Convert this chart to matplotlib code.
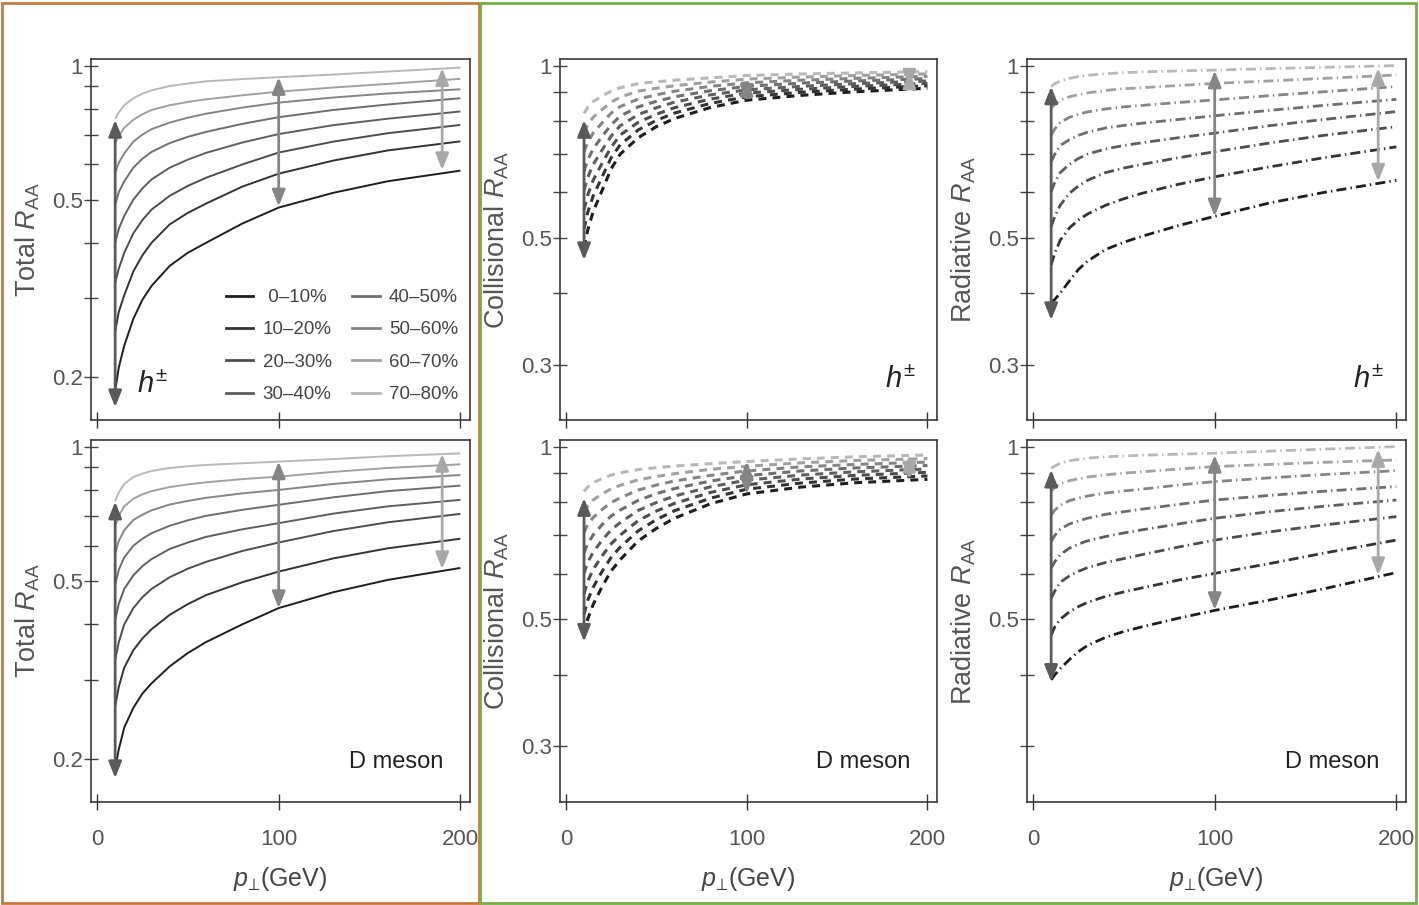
import matplotlib
matplotlib.use('Agg')
import matplotlib.pyplot as plt
from matplotlib.patches import Rectangle
from matplotlib.lines import Line2D

plt.rcParams['font.family'] = ['Liberation Sans', 'DejaVu Sans']
plt.rcParams['mathtext.fontset'] = 'custom'
plt.rcParams['mathtext.rm'] = 'Liberation Sans'
plt.rcParams['mathtext.it'] = 'Liberation Sans:italic'
plt.rcParams['mathtext.bf'] = 'Liberation Sans:bold'

pt = [10, 12, 15, 20, 25, 30, 40, 50, 60, 80, 100, 130, 160, 200]

centrality = [' 0–10%', '10–20%', '20–30%', '30–40%',
              '40–50%', '50–60%', '60–70%', '70–80%']
greys = ['#1e1e1e', '#333333', '#4d4d4d', '#5e5e5e',
         '#6e6e6e', '#858585', '#a0a0a0', '#b8b8b8']

# total R_AA, charged hadrons
total_h = [
    [0.186, 0.21, 0.235, 0.27, 0.298, 0.32, 0.355, 0.38, 0.40, 0.442, 0.48, 0.518, 0.55, 0.581],
    [0.253, 0.28, 0.305, 0.345, 0.375, 0.40, 0.44, 0.467, 0.49, 0.535, 0.572, 0.612, 0.645, 0.676],
    [0.325, 0.35, 0.38, 0.42, 0.45, 0.475, 0.51, 0.537, 0.56, 0.60, 0.638, 0.675, 0.705, 0.736],
    [0.40, 0.43, 0.46, 0.50, 0.53, 0.555, 0.59, 0.615, 0.637, 0.672, 0.702, 0.735, 0.76, 0.789],
    [0.487, 0.52, 0.55, 0.59, 0.618, 0.64, 0.67, 0.692, 0.71, 0.74, 0.766, 0.795, 0.818, 0.845],
    [0.575, 0.605, 0.635, 0.675, 0.70, 0.72, 0.745, 0.764, 0.78, 0.805, 0.826, 0.848, 0.866, 0.885],
    [0.67, 0.695, 0.725, 0.756, 0.778, 0.795, 0.815, 0.829, 0.84, 0.858, 0.874, 0.893, 0.91, 0.934],
    [0.76, 0.785, 0.815, 0.845, 0.865, 0.88, 0.90, 0.912, 0.922, 0.933, 0.942, 0.955, 0.97, 0.99],
]
# total R_AA, D meson
total_d = [
    [0.19, 0.21, 0.235, 0.26, 0.28, 0.295, 0.322, 0.345, 0.365, 0.40, 0.435, 0.472, 0.503, 0.535],
    [0.262, 0.29, 0.32, 0.35, 0.372, 0.39, 0.42, 0.444, 0.465, 0.497, 0.525, 0.562, 0.592, 0.622],
    [0.333, 0.365, 0.40, 0.435, 0.46, 0.48, 0.51, 0.533, 0.552, 0.584, 0.61, 0.647, 0.677, 0.707],
    [0.409, 0.445, 0.48, 0.515, 0.54, 0.56, 0.59, 0.61, 0.628, 0.653, 0.674, 0.708, 0.735, 0.76],
    [0.491, 0.53, 0.565, 0.60, 0.622, 0.64, 0.665, 0.684, 0.70, 0.722, 0.741, 0.77, 0.795, 0.818],
    [0.577, 0.615, 0.65, 0.685, 0.704, 0.72, 0.742, 0.756, 0.768, 0.786, 0.80, 0.825, 0.845, 0.864],
    [0.662, 0.70, 0.735, 0.765, 0.782, 0.795, 0.812, 0.823, 0.832, 0.846, 0.857, 0.878, 0.896, 0.913],
    [0.755, 0.79, 0.825, 0.855, 0.87, 0.882, 0.896, 0.904, 0.91, 0.918, 0.926, 0.938, 0.952, 0.966],
]
# collisional R_AA, charged hadrons
coll_h = [
    [0.480, 0.515, 0.555, 0.605, 0.66, 0.700, 0.748, 0.782, 0.808, 0.845, 0.870, 0.887, 0.900, 0.913],
    [0.518, 0.553, 0.591, 0.639, 0.69, 0.727, 0.772, 0.802, 0.826, 0.859, 0.882, 0.898, 0.910, 0.922],
    [0.560, 0.593, 0.630, 0.675, 0.72, 0.756, 0.796, 0.822, 0.844, 0.874, 0.895, 0.909, 0.920, 0.931],
    [0.605, 0.637, 0.671, 0.712, 0.753, 0.785, 0.821, 0.844, 0.863, 0.889, 0.907, 0.920, 0.930, 0.940],
    [0.654, 0.683, 0.715, 0.752, 0.788, 0.816, 0.847, 0.866, 0.882, 0.904, 0.920, 0.932, 0.940, 0.949],
    [0.707, 0.734, 0.762, 0.794, 0.826, 0.848, 0.874, 0.889, 0.902, 0.920, 0.933, 0.943, 0.950, 0.958],
    [0.764, 0.787, 0.812, 0.838, 0.863, 0.881, 0.902, 0.913, 0.922, 0.936, 0.947, 0.955, 0.961, 0.967],
    [0.825, 0.845, 0.865, 0.885, 0.902, 0.915, 0.930, 0.937, 0.943, 0.952, 0.961, 0.967, 0.971, 0.976],
]
# collisional R_AA, D meson
coll_d = [
    [0.470, 0.500, 0.530, 0.570, 0.607, 0.635, 0.685, 0.72, 0.750, 0.795, 0.827, 0.850, 0.865, 0.877],
    [0.510, 0.539, 0.568, 0.606, 0.641, 0.668, 0.713, 0.746, 0.773, 0.813, 0.843, 0.864, 0.878, 0.889],
    [0.554, 0.582, 0.610, 0.645, 0.677, 0.701, 0.743, 0.772, 0.796, 0.832, 0.858, 0.878, 0.891, 0.902],
    [0.601, 0.628, 0.654, 0.687, 0.716, 0.737, 0.774, 0.799, 0.820, 0.851, 0.874, 0.892, 0.904, 0.914],
    [0.653, 0.677, 0.701, 0.731, 0.757, 0.775, 0.806, 0.828, 0.845, 0.871, 0.890, 0.907, 0.918, 0.927],
    [0.709, 0.731, 0.752, 0.777, 0.799, 0.814, 0.840, 0.857, 0.871, 0.891, 0.907, 0.922, 0.931, 0.940],
    [0.769, 0.788, 0.807, 0.827, 0.844, 0.856, 0.875, 0.887, 0.897, 0.913, 0.924, 0.937, 0.946, 0.953],
    [0.835, 0.850, 0.865, 0.880, 0.892, 0.900, 0.912, 0.919, 0.925, 0.934, 0.942, 0.952, 0.960, 0.967],
]
# radiative R_AA, charged hadrons
rad_h = [
    [0.385, 0.39, 0.40, 0.42, 0.44, 0.455, 0.477, 0.491, 0.503, 0.525, 0.545, 0.575, 0.60, 0.63],
    [0.448, 0.47, 0.495, 0.52, 0.537, 0.55, 0.57, 0.585, 0.598, 0.62, 0.639, 0.665, 0.69, 0.721],
    [0.523, 0.545, 0.57, 0.598, 0.616, 0.63, 0.65, 0.662, 0.672, 0.69, 0.707, 0.732, 0.755, 0.782],
    [0.602, 0.625, 0.65, 0.672, 0.688, 0.70, 0.715, 0.725, 0.733, 0.748, 0.762, 0.785, 0.805, 0.831],
    [0.679, 0.70, 0.725, 0.742, 0.755, 0.765, 0.778, 0.786, 0.793, 0.805, 0.817, 0.835, 0.852, 0.873],
    [0.756, 0.775, 0.795, 0.812, 0.822, 0.83, 0.84, 0.847, 0.852, 0.862, 0.871, 0.886, 0.90, 0.919],
    [0.842, 0.855, 0.87, 0.882, 0.89, 0.896, 0.905, 0.911, 0.915, 0.923, 0.931, 0.94, 0.95, 0.963],
    [0.919, 0.93, 0.94, 0.95, 0.957, 0.962, 0.968, 0.972, 0.975, 0.979, 0.982, 0.988, 0.993, 1.0],
]
# radiative R_AA, D meson
rad_d = [
    [0.392, 0.40, 0.41, 0.425, 0.439, 0.45, 0.465, 0.476, 0.485, 0.502, 0.518, 0.54, 0.565, 0.603],
    [0.469, 0.485, 0.50, 0.515, 0.526, 0.535, 0.548, 0.558, 0.567, 0.585, 0.601, 0.625, 0.652, 0.687],
    [0.544, 0.56, 0.58, 0.595, 0.606, 0.615, 0.628, 0.638, 0.648, 0.668, 0.687, 0.71, 0.73, 0.755],
    [0.614, 0.63, 0.648, 0.665, 0.676, 0.685, 0.697, 0.707, 0.716, 0.733, 0.75, 0.77, 0.787, 0.807],
    [0.683, 0.70, 0.718, 0.733, 0.742, 0.75, 0.762, 0.77, 0.778, 0.793, 0.807, 0.822, 0.836, 0.852],
    [0.76, 0.775, 0.79, 0.805, 0.813, 0.82, 0.83, 0.837, 0.843, 0.857, 0.869, 0.882, 0.894, 0.908],
    [0.835, 0.85, 0.862, 0.872, 0.879, 0.885, 0.893, 0.899, 0.904, 0.914, 0.923, 0.931, 0.939, 0.948],
    [0.917, 0.925, 0.935, 0.945, 0.95, 0.955, 0.96, 0.963, 0.966, 0.97, 0.974, 0.982, 0.99, 1.0],
]

# double arrows: x position and (low, high) ends per panel
arrow_x = [10, 100, 190]
arrow_grey = ['#5a5a5a', '#858585', '#a8a8a8']
arr_total_h = [(0.171, 0.755), (0.483, 0.942), (0.583, 0.987)]
arr_total_d = [(0.181, 0.753), (0.435, 0.926), (0.532, 0.963)]
arr_coll_h = [(0.457, 0.803), (0.865, 0.947), (0.919, 0.976)]
arr_coll_d = [(0.457, 0.813), (0.827, 0.942), (0.877, 0.967)]
arr_rad_h = [(0.359, 0.919), (0.545, 0.980), (0.627, 0.990)]
arr_rad_d = [(0.389, 0.911), (0.519, 0.967), (0.597, 0.990)]

fig = plt.figure(figsize=(14.19, 9.05), dpi=100)

W, H = 1419, 905
col_left = [91, 560, 1027]
col_w = [379, 377, 379]
row_top = [59, 440]
row_h = [361, 362]

solid = '-'
dashed = (0, (2.6, 2.0))
dashdot = (0, (3.6, 1.5, 0.5, 1.5))

panels = [
    (0, 0, total_h, arr_total_h, solid, 1.4, 'Total', r'$h^{\pm}$'),
    (1, 0, total_d, arr_total_d, solid, 1.4, 'Total', 'D meson'),
    (0, 1, coll_h, arr_coll_h, dashed, 2.2, 'Collisional', r'$h^{\pm}$'),
    (1, 1, coll_d, arr_coll_d, dashed, 2.2, 'Collisional', 'D meson'),
    (0, 2, rad_h, arr_rad_h, dashdot, 2.0, 'Radiative', r'$h^{\pm}$'),
    (1, 2, rad_d, arr_rad_d, dashdot, 2.0, 'Radiative', 'D meson'),
]

txt = '#555555'
for row, col, curves, arrows, ls, lw, name, tag in panels:
    l = col_left[col] / W
    b = 1 - (row_top[row] + row_h[row]) / H
    ax = fig.add_axes([l, b, col_w[col] / W, row_h[row] / H])
    ax.set_yscale('log')
    for vals, c in zip(curves, greys):
        ax.plot(pt, vals, color=c, lw=lw, linestyle=ls, solid_capstyle='butt',
                dash_capstyle='butt', solid_joinstyle='round')
    for x, (lo, hi), c in zip(arrow_x, arrows, arrow_grey):
        ax.annotate('', xy=(x, hi), xytext=(x, lo),
                    arrowprops=dict(arrowstyle='<|-|>,head_length=0.7,head_width=0.28',
                                    color=c, lw=2.0, mutation_scale=14,
                                    shrinkA=0, shrinkB=0))
    ax.set_xlim(-3.3, 205.3)
    if col == 0:
        ax.set_ylim(0.16, 1.035)
        yt = [0.2, 0.3, 0.4, 0.5, 0.6, 0.7, 0.8, 0.9, 1.0]
        yl = ['0.2', '', '', '0.5', '', '', '', '', '1']
    else:
        ax.set_ylim(0.24, 1.027)
        yt = [0.3, 0.4, 0.5, 0.6, 0.7, 0.8, 0.9, 1.0]
        yl = ['0.3', '', '0.5', '', '', '', '', '1']
        if col == 2 and row == 1:
            yl[0] = ''
    ax.yaxis.set_minor_locator(matplotlib.ticker.NullLocator())
    ax.set_yticks(yt)
    ax.set_yticklabels(yl)
    ax.set_xticks([0, 100, 200])
    ax.tick_params(axis='y', direction='inout', length=10, width=1.0,
                   color='#444444', labelcolor=txt, labelsize=16, pad=1)
    ax.tick_params(axis='x', direction='inout', length=11, width=1.0,
                   color='#333333', labelcolor=txt, labelsize=16, pad=14)
    if row == 0:
        ax.set_xticklabels([])
    else:
        ax.set_xlabel('$p_{⊥}$(GeV)', fontsize=18, color='#444444')
        ax.xaxis.set_label_coords(0.5, -0.175)
    for s in ax.spines.values():
        s.set_color('#3a3a3a')
        s.set_linewidth(1.2)
    ax.set_ylabel(name + r' $R_{\mathrm{AA}}$', fontsize=19.5, color=txt)
    ax.yaxis.set_label_coords(-0.13, 0.5)

    if tag == 'D meson':
        ax.text(0.805, 0.11, tag, transform=ax.transAxes, fontsize=17,
                color='#222222', ha='center', va='center')
    elif col == 0:
        ax.text(0.161, 0.097, tag, transform=ax.transAxes, fontsize=21,
                color='#222222', ha='center', va='center')
    else:
        ax.text(0.902, 0.111, tag, transform=ax.transAxes, fontsize=21,
                color='#222222', ha='center', va='center')

    if row == 0 and col == 0:
        handles = [Line2D([], [], color=c, lw=2.0) for c in greys]
        ax.legend(handles, centrality, ncol=2, loc='lower right',
                  bbox_to_anchor=(1.013, 0.0), frameon=False, fontsize=13.5,
                  handlelength=1.45, handletextpad=0.5, columnspacing=1.1,
                  labelspacing=0.81, labelcolor='#444444')

# coloured frames around the column groups
fig.add_artist(Rectangle((2 / W, 2 / H), 477 / W, 900 / H, transform=fig.transFigure,
                         fill=False, edgecolor='#c87a3c', lw=2.0))
fig.add_artist(Rectangle((480 / W, 2 / H), 936 / W, 900 / H, transform=fig.transFigure,
                         fill=False, edgecolor='#72b043', lw=2.0))

fig.savefig('out.png', dpi=100, facecolor='white')
